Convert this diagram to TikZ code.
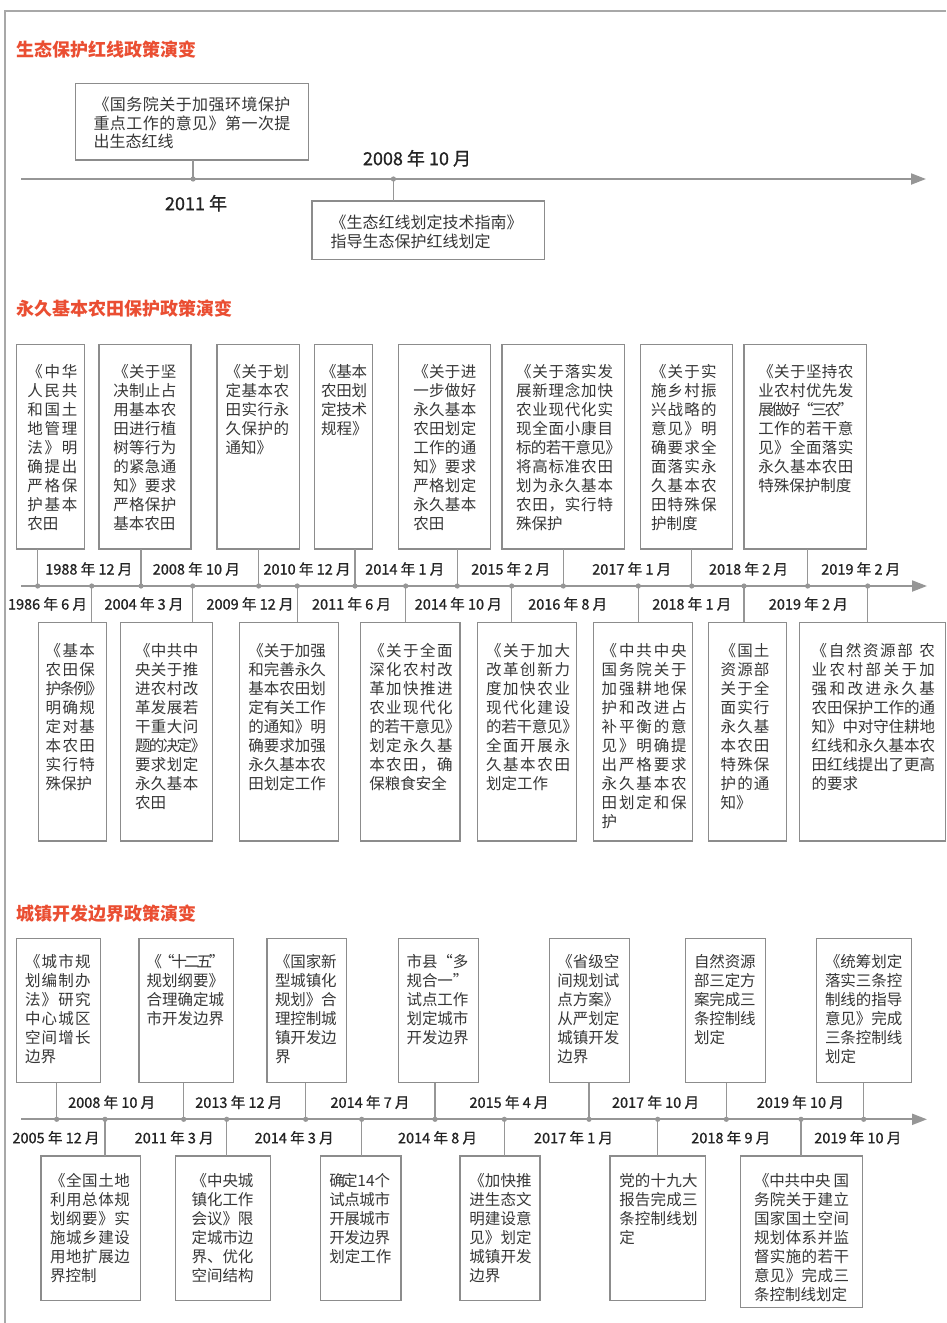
\documentclass[tikz,border=0pt]{standalone}
\usepackage{fontspec}
\setmainfont{Noto Sans CJK SC}
\newfontfamily\datefont[FakeBold=1]{Noto Sans CJK SC}
\usetikzlibrary{arrows.meta}
\definecolor{titlec}{RGB}{234,78,50}
\definecolor{boxc}{RGB}{140,140,140}
\definecolor{axc}{RGB}{150,150,150}
\definecolor{txtc}{RGB}{55,55,55}
\definecolor{datec}{RGB}{35,35,35}
\definecolor{framec}{RGB}{168,168,168}
\newcommand\rb{\makebox[0.5em][l]{》}}
\ExplSyntaxOn
\seq_new:N \l_my_lines_seq
\int_new:N \l_my_n_int
\bool_new:N \l_my_first_bool
\cs_new_protected:Npn \my_spread:n #1
  {
    \bool_set_true:N \l_my_first_bool
    \tl_map_inline:nn {#1}
      {
        \bool_if:NF \l_my_first_bool { \hskip 0pt plus 1fil minus 3pt }
        \bool_set_false:N \l_my_first_bool
        ##1
      }
  }
\NewDocumentCommand \jtext { m m }
  {
    \seq_set_split:Nnn \l_my_lines_seq { / } {#2}
    \int_set:Nn \l_my_n_int { \seq_count:N \l_my_lines_seq }
    \parbox[t]{#1}
      {
        \seq_map_indexed_inline:Nn \l_my_lines_seq
          {
            \int_compare:nNnTF {##1} < {\l_my_n_int}
              { \hbox_to_wd:nn {#1} { \my_spread:n {##2} } }
              { \hbox:n {##2} }
          }
      }
  }
\ExplSyntaxOff
\newcommand\pb[5]{\node[pbox,anchor=north west,minimum width={(#4-#2)*1pt},minimum height={(#5-#3)*1pt}] (#1) at (#2,#3) {};}
\newcommand\tb[6][]{\node[btext,#1,anchor=base west] (#2) at (#3,#4) {\jtext{#5pt}{#6}};}
\begin{document}
\begin{tikzpicture}[x=1pt,y=-1pt,
  pbox/.style={draw=boxc,line width=1.4pt,inner sep=0,outer sep=0,fill=white},
  btext/.style={inner sep=0,outer sep=0,text=txtc,font=\fontsize{15.5}{19}\selectfont},
  stext/.style={font=\fontsize{16}{18.5}\selectfont},
  datel/.style={inner sep=0,text=datec,font=\datefont\fontsize{14.5}{16}\selectfont},
  bigdate/.style={inner sep=0,text=datec,font=\datefont\fontsize{18}{20}\selectfont},
  title/.style={inner sep=0,anchor=west,text=titlec,font=\bfseries\fontsize{18}{20}\selectfont},
  axisl/.style={draw=axc,line width=2pt,-{Triangle[length=15pt,width=11pt]}},
  conn/.style={draw=axc,line width=1.4pt},
  dotc/.style={fill=axc},
  framel/.style={draw=framec,line width=1.6pt}
]
\useasboundingbox (0,0) rectangle (946,1323);
\draw[framel] (4.8,1323) -- (4.8,10.7) -- (946,10.7);

% ================= Section 1 =================
\node[title] (t1) at (16.3,49.3) {生态保护红线政策演变};
\coordinate (a1s) at (21,179);
\coordinate (a1e) at (926,179);
\draw[axisl] (a1s) -- (a1e);
\coordinate (sA) at (193.1,179);
\coordinate (sB) at (393.4,179);
\pb{bA}{75.4}{83.3}{308.3}{160}
\pb{bB}{312}{201}{544.2}{259.3}
\tb[stext]{tA}{93.5}{110.5}{197}{《国务院关于加强环境保护/重点工作的意见》第一次提/出生态红线}
\tb[stext]{tB}{330.6}{228.9}{192}{《生态红线划定技术指南》/指导生态保护红线划定}
\draw[conn] (bA.south -| sA) -- (sA);
\draw[conn] (sB) -- (bB.north -| sB);
\fill[dotc] (sA) circle (2.6pt);
\fill[dotc] (sB) circle (2.6pt);
\node[bigdate] (dA) at (417,158.3) {2008 年 10 月};
\node[bigdate] (dB) at (196,203.3) {2011 年};

% ================= Section 2 =================
\node[title] (t2) at (16.5,309) {永久基本农田保护政策演变};
\coordinate (a2s) at (21,586);
\coordinate (a2e) at (927,586);
\draw[axisl] (a2s) -- (a2e);
% upper boxes
\pb{u1}{16.7}{344.3}{84.3}{549}
\pb{u2}{99}{344.3}{191}{549}
\pb{u3}{217}{344.3}{299.7}{549}
\pb{u4}{314.3}{344.3}{372.3}{549}
\pb{u5}{398.3}{344.3}{490.7}{549}
\pb{u6}{502}{344.3}{624.3}{549}
\pb{u7}{640.3}{344.3}{732.3}{549}
\pb{u8}{744}{344.3}{866.3}{549}
\tb{tu1}{27.3}{377}{50}{《中华/人民共/和国土/地管理/法》明/确提出/严格保/护基本/农田}
\tb{tu2}{113.3}{377}{63}{《关于坚/决制止占/用基本农/田进行植/树等行为/的紧急通/知》要求/严格保护/基本农田}
\tb{tu3}{225.7}{377}{63.5}{《关于划/定基本农/田实行永/久保护的/通知》}
\tb{tu4}{321}{377}{46}{《基本/农田划/定技术/规程》}
\tb{tu5}{413.3}{377}{63}{《关于进/一步做好/永久基本/农田划定/工作的通/知》要求/严格划定/永久基本/农田}
\tb{tu6}{516}{377}{97}{《关于落实发/展新理念加快/农业现代化实/现全面小康目/标的若干意见\rb/将高标准农田/划为永久基本/农田，实行特/殊保护}
\tb{tu7}{651}{377}{65.7}{《关于实/施乡村振/兴战略的/意见》明/确要求全/面落实永/久基本农/田特殊保/护制度}
\tb{tu8}{758.3}{377}{95}{《关于坚持农/业农村优先发/展做好“三农”/工作的若干意/见》全面落实/永久基本农田/特殊保护制度}
% lower boxes
\pb{l1}{38.7}{622.3}{106.7}{841}
\pb{l2}{120.7}{622.3}{212.7}{841}
\pb{l3}{239.7}{622.3}{338.7}{841}
\pb{l4}{360.7}{622.3}{460}{841}
\pb{l5}{477.3}{622.3}{576.7}{841}
\pb{l6}{593.3}{622.3}{692.7}{841}
\pb{l7}{708.3}{622.3}{786.3}{841}
\pb{l8}{799.3}{622.3}{945.5}{841}
\tb{tl1}{45.7}{656}{49.3}{《基本/农田保/护条例\rb/明确规/定对基/本农田/实行特/殊保护}
\tb{tl2}{135}{656}{63.3}{《中共中/央关于推/进农村改/革发展若/干重大问/题的决定\rb/要求划定/永久基本/农田}
\tb{tl3}{248.3}{656}{77.7}{《关于加强/和完善永久/基本农田划/定有关工作/的通知》明/确要求加强/永久基本农/田划定工作}
\tb{tl4}{369.3}{656}{83.3}{《关于全面/深化农村改/革加快推进/农业现代化/的若干意见\rb/划定永久基/本农田，确/保粮食安全}
\tb{tl5}{486}{656}{84}{《关于加大/改革创新力/度加快农业/现代化建设/的若干意见\rb/全面开展永/久基本农田/划定工作}
\tb{tl6}{601.7}{656}{85}{《中共中央/国务院关于/加强耕地保/护和改进占/补平衡的意/见》明确提/出严格要求/永久基本农/田划定和保/护}
\tb{tl7}{720.7}{656}{48.7}{《国土/资源部/关于全/面实行/永久基/本农田/特殊保/护的通/知》}
\tb{tl8}{811.7}{656}{123.3}{《自然资源部~农/业农村部关于加/强和改进永久基/农田保护工作的通/知》中对守住耕地/红线和永久基本农/田红线提出了更高/的要求}
% axis points
\coordinate (pu1) at (37.7,586);
\coordinate (pu2) at (141,586);
\coordinate (pu3) at (258.7,586);
\coordinate (pu4) at (355,586);
\coordinate (pu5) at (457.3,586);
\coordinate (pu6) at (563.3,586);
\coordinate (pu7) at (691.7,586);
\coordinate (pu8) at (807.7,586);
\coordinate (pl1) at (91.7,586);
\coordinate (pl2) at (192.7,586);
\coordinate (pl3) at (297.3,586);
\coordinate (pl4) at (405.7,586);
\coordinate (pl5) at (511.7,586);
\coordinate (pl6) at (638.3,586);
\coordinate (pl7) at (744,586);
\coordinate (pl8) at (867.7,586);
\foreach \i in {1,...,8}{
  \draw[conn] (u\i.south -| pu\i) -- (pu\i);
  \draw[conn] (pl\i) -- (l\i.north -| pl\i);
  \fill[dotc] (pu\i) circle (2.6pt);
  \fill[dotc] (pl\i) circle (2.6pt);
}
\node[datel] (du1) at (88.8,569) {1988 年 12 月};
\node[datel] (du2) at (196.3,569) {2008 年 10 月};
\node[datel] (du3) at (307,569) {2010 年 12 月};
\node[datel] (du4) at (404.8,569) {2014 年 1 月};
\node[datel] (du5) at (510.8,569) {2015 年 2 月};
\node[datel] (du6) at (631.7,569) {2017 年 1 月};
\node[datel] (du7) at (748.5,569) {2018 年 2 月};
\node[datel] (du8) at (860.8,569) {2019 年 2 月};
\node[datel] (dl1) at (47.5,604) {1986 年 6 月};
\node[datel] (dl2) at (144,604) {2004 年 3 月};
\node[datel] (dl3) at (250,604) {2009 年 12 月};
\node[datel] (dl4) at (351.5,604) {2011 年 6 月};
\node[datel] (dl5) at (458.3,604) {2014 年 10 月};
\node[datel] (dl6) at (567.7,604) {2016 年 8 月};
\node[datel] (dl7) at (691.8,604) {2018 年 1 月};
\node[datel] (dl8) at (808.3,604) {2019 年 2 月};

% ================= Section 3 =================
\node[title] (t3) at (16.5,913.3) {城镇开发边界政策演变};
\coordinate (a3s) at (21,1119.3);
\coordinate (a3e) at (927,1119.3);
\draw[axisl] (a3s) -- (a3e);
\pb{v1}{16.7}{938.3}{100.3}{1082.7}
\pb{v2}{139}{938.3}{233.7}{1082.7}
\pb{v3}{267}{938.3}{346.7}{1082.7}
\pb{v4}{398.7}{938.3}{478.3}{1082.7}
\pb{v5}{549.7}{938.3}{629.7}{1082.7}
\pb{v6}{685.7}{938.3}{765.7}{1082.7}
\pb{v7}{816.7}{938.3}{911.7}{1082.7}
\tb{tv1}{25}{967.7}{65.7}{《城市规/划编制办/法》研究/中心城区/空间增长/边界}
\tb{tv2}{146.7}{967.7}{77.3}{《“十二五”/规划纲要》/合理确定城/市开发边界}
\tb{tv3}{275}{967.7}{61.7}{《国家新/型城镇化/规划》合/理控制城/镇开发边/界}
\tb{tv4}{406.7}{967.7}{61.6}{市县“多/规合一”/试点工作/划定城市/开发边界}
\tb{tv5}{557.3}{967.7}{62}{《省级空/间规划试/点方案》/从严划定/城镇开发/边界}
\tb{tv6}{694}{967.7}{61.7}{自然资源/部三定方/案完成三/条控制线/划定}
\tb{tv7}{825}{967.7}{77.3}{《统筹划定/落实三条控/制线的指导/意见》完成/三条控制线/划定}
\pb{w1}{41}{1156}{140.3}{1300.7}
\pb{w2}{175.7}{1156}{270.7}{1300.7}
\pb{w3}{320.7}{1156}{401}{1300.7}
\pb{w4}{460}{1156}{540}{1300.7}
\pb{w5}{610}{1156}{705.7}{1300.7}
\pb{w6}{740.3}{1156}{862.3}{1307.3}
\tb{tw1}{50}{1186}{80}{《全国土地/利用总体规/划纲要》实/施城乡建设/用地扩展边/界控制}
\tb{tw2}{191.7}{1186}{61.7}{《中央城/镇化工作/会议》限/定城市边/界、优化/空间结构}
\tb{tw3}{329.3}{1186}{60.7}{确定{\hspace{2.5pt}14\hspace{2.5pt}}个/试点城市/开展城市/开发边界/划定工作}
\tb{tw4}{469.3}{1186}{62.4}{《加快推/进生态文/明建设意/见》划定/城镇开发/边界}
\tb{tw5}{619.3}{1186}{78.3}{党的十九大/报告完成三/条控制线划/定}
\tb{tw6}{754}{1186}{95}{《中共中央~国/务院关于建立/国家国土空间/规划体系并监/督实施的若干/意见》完成三/条控制线划定}
\coordinate (pv1) at (56.7,1119.3);
\coordinate (pv2) at (183.7,1119.3);
\coordinate (pv3) at (305.7,1119.3);
\coordinate (pv4) at (435,1119.3);
\coordinate (pv5) at (589,1119.3);
\coordinate (pv6) at (726.3,1119.3);
\coordinate (pv7) at (863.7,1119.3);
\coordinate (pw1) at (105,1119.3);
\coordinate (pw2) at (226.7,1119.3);
\coordinate (pw3) at (361.7,1119.3);
\coordinate (pw4) at (504.3,1119.3);
\coordinate (pw5) at (657.7,1119.3);
\coordinate (pw6) at (801,1119.3);
\foreach \i in {1,...,7}{
  \draw[conn] (v\i.south -| pv\i) -- (pv\i);
  \fill[dotc] (pv\i) circle (2.6pt);
}
\foreach \i in {1,...,6}{
  \draw[conn] (pw\i) -- (w\i.north -| pw\i);
  \fill[dotc] (pw\i) circle (2.6pt);
}
\node[datel] (dv1) at (111.7,1102.3) {2008 年 10 月};
\node[datel] (dv2) at (238.8,1102.3) {2013 年 12 月};
\node[datel] (dv3) at (370,1102.3) {2014 年 7 月};
\node[datel] (dv4) at (509,1102.3) {2015 年 4 月};
\node[datel] (dv5) at (655.5,1102.3) {2017 年 10 月};
\node[datel] (dv6) at (800.3,1102.3) {2019 年 10 月};
\node[datel] (dw1) at (56,1137.7) {2005 年 12 月};
\node[datel] (dw2) at (174.2,1137.7) {2011 年 3 月};
\node[datel] (dw3) at (294.2,1137.7) {2014 年 3 月};
\node[datel] (dw4) at (437.5,1137.7) {2014 年 8 月};
\node[datel] (dw5) at (573.5,1137.7) {2017 年 1 月};
\node[datel] (dw6) at (730.8,1137.7) {2018 年 9 月};
\node[datel] (dw7) at (857.8,1137.7) {2019 年 10 月};
\end{tikzpicture}
\end{document}
